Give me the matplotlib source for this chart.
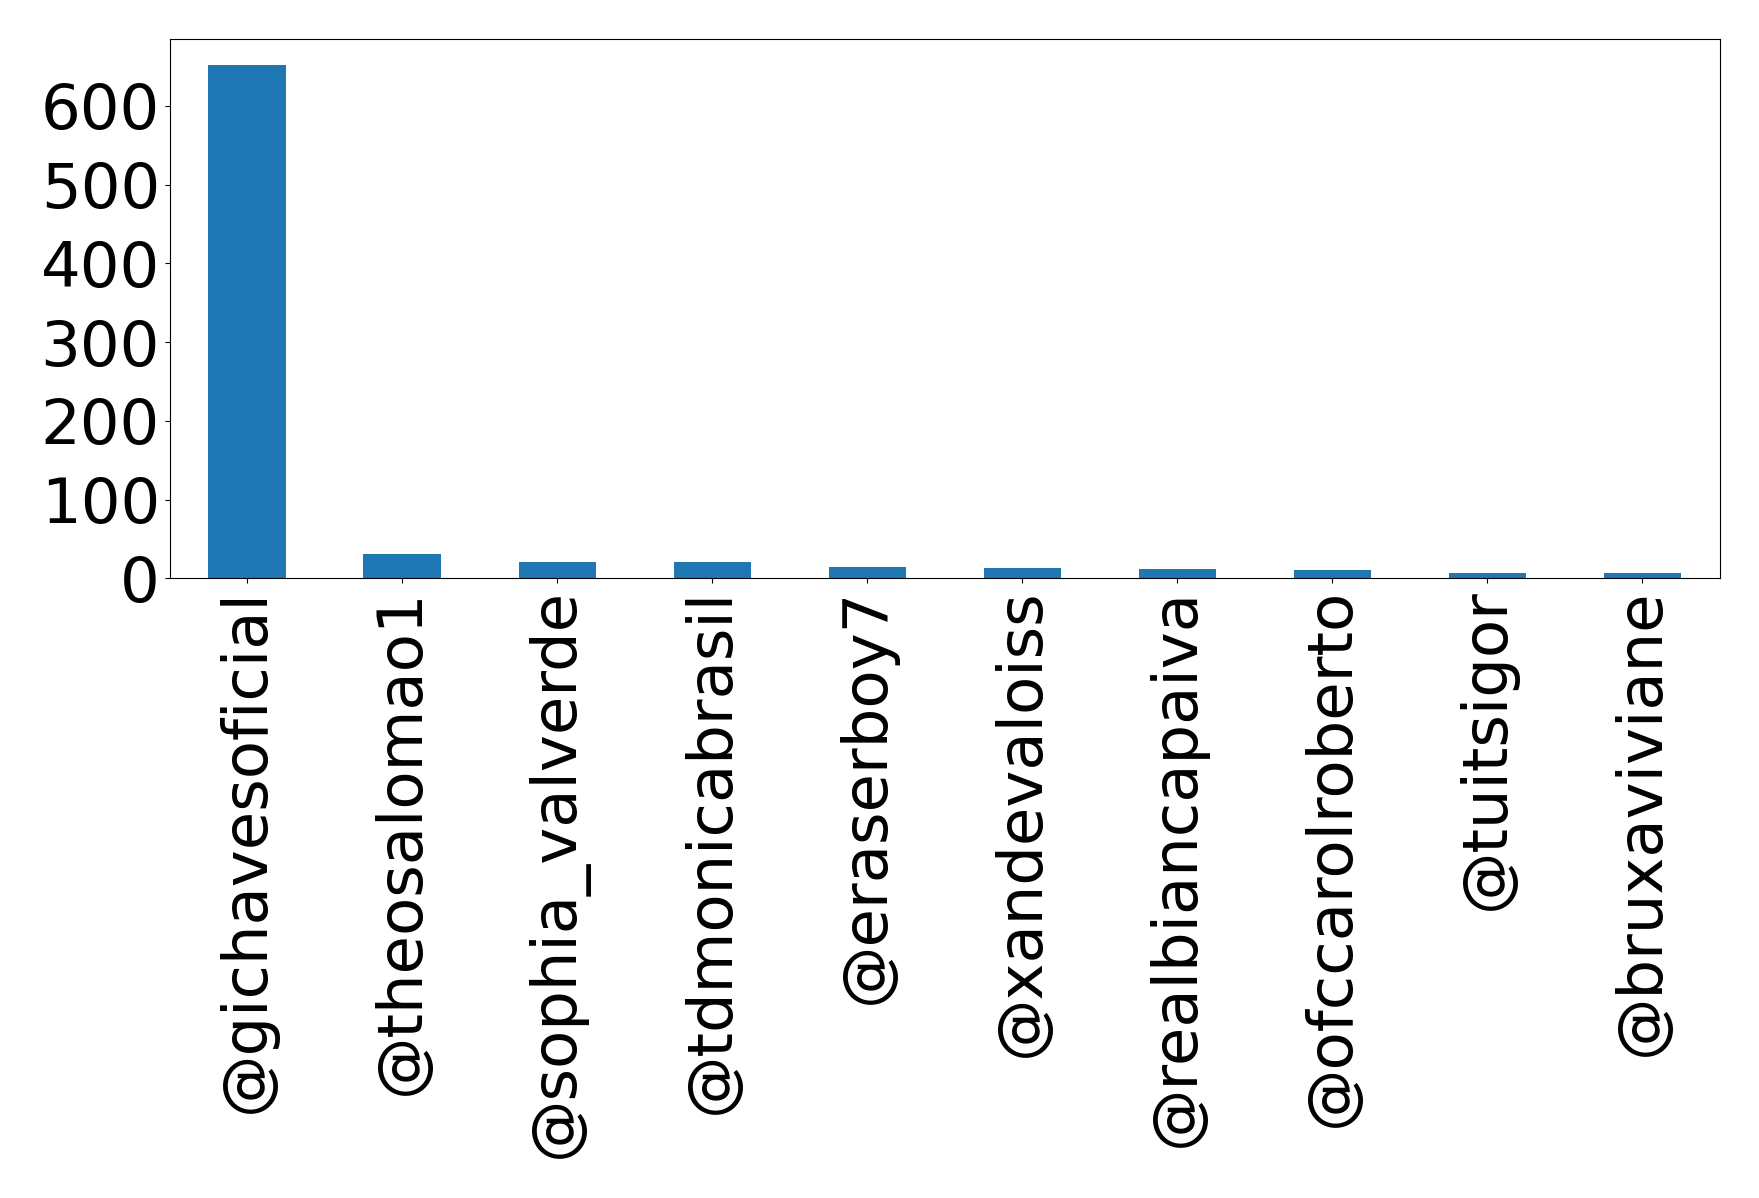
import matplotlib
matplotlib.use("Agg")
import matplotlib.pyplot as plt
import numpy as np

# Mention counts per account
accounts = [
    "@gichavesoficial", "@theosalomao1", "@sophia_valverde", "@tdmonicabrasil",
    "@eraserboy7", "@xandevaloiss", "@realbiancapaiva", "@ofccarolroberto",
    "@tuitsigor", "@bruxaviviane",
]
counts = [652, 31, 21, 21, 14, 13, 12, 11, 7, 7]

fig = plt.figure(figsize=(17.59, 11.98), dpi=100)
ax = fig.add_axes([0.0965, 0.5173, 0.9777 - 0.0965, 0.9672 - 0.5173])

x = np.arange(len(accounts))
ax.bar(x, counts, width=0.5, color="#1f77b4")
ax.set_xlim(-0.5, len(accounts) - 0.5)
ax.set_ylim(0, max(counts) * 1.05)
ax.set_xticks(x)
ax.set_xticklabels(accounts, rotation=90)
ax.set_yticks([0, 100, 200, 300, 400, 500, 600])
ax.tick_params(axis="both", labelsize=45)

fig.savefig("out.png", dpi=100)
